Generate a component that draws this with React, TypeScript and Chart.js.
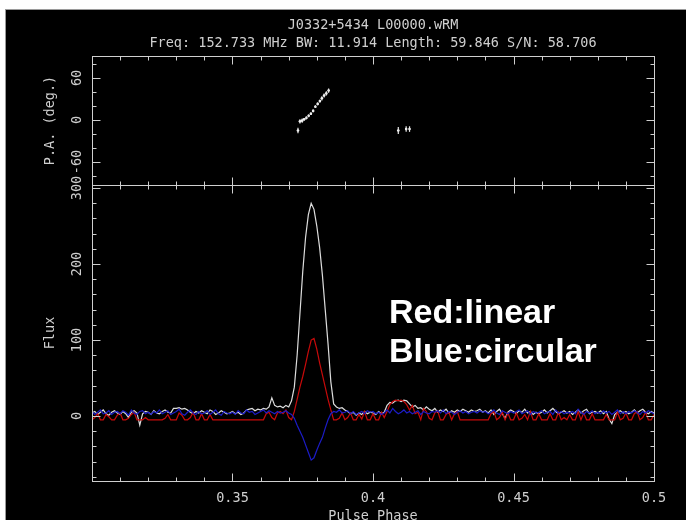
import { useEffect, useRef } from "react";
import { Chart, registerables } from "chart.js";

Chart.register(...registerables);

// Phase bins: 0.300 .. 0.500, step 0.001
const PHASE_START = 0.3;
const PHASE_STEP = 0.001;

// Total intensity (white)
const totalI: number[] = [
  4, 6, 2, 5, 8, 3, 1, 5, 7, 4,
  2, 6, 3, -2, 5, 7, 4, -12, 3, 6,
  5, 2, 7, 4, 3, 6, 8, 5, 4, 10,
  10, 11, 9, 10, 8, 5, 3, 6, 4, 7,
  5, 3, 8, 6, 2, 4, 7, 5, 3, 4,
  6, 3, 5, 2, 4, 8, 9, 10, 7, 9,
  8, 10, 9, 12, 24, 14, 12, 13, 11, 14,
  12, 20, 38, 80, 135, 190, 235, 265, 280, 272,
  250, 222, 185, 140, 95, 45, 16, 12, 10, 11,
  8, 6, 3, 5, 1, 4, 2, 6, 3, 5,
  4, 2, 6, 3, 5, 14, 18, 17, 20, 21,
  19, 21, 20, 16, 12, 14, 10, 11, 8, 12,
  9, 7, 10, 5, 8, 6, 9, 4, 7, 5,
  8, 6, 9, 7, 5, 8, 6, 7, 9, 5,
  7, 4, 8, 2, 6, 9, 3, -3, 5, 8,
  6, 3, 7, 5, 9, 4, 6, 2, 5, 3,
  5, 8, 4, 7, 10, 6, 3, 5, 7, 4,
  6, 2, 5, 8, 4, 7, 9, 3, 5, 6,
  4, 7, 3, 6, -4, -10, 2, 5, 7, 4,
  6, 3, 5, 8, 4, 7, 9, 5, 3, 6, 4,
];

// Linear polarisation (red)
const linearL: number[] = [
  -5, -2, 3, -5, -5, 2, -1, -5, -5, 1,
  4, -5, -5, -3, 2, 5, -5, -5, -5, -2,
  -5, -5, -5, -5, -5, -5, -3, 2, -5, -5,
  -5, 4, 1, -5, -5, -2, 5, -5, -5, 3,
  -5, -5, 2, -5, -5, -5, -5, -5, -5, -5,
  -5, -5, -5, -5, -5, -5, -5, -5, -5, -5,
  -5, -5, 3, 5, -2, -5, 4, 6, 3, 8,
  -2, -5, 6, 22, 38, 52, 68, 85, 100, 102,
  88, 70, 54, 38, 22, 8, -5, -5, -3, 4,
  -5, -2, 4, -5, -5, 2, -4, 6, -5, -5,
  3, -5, -5, 5, -2, 6, 15, 19, 21, 20,
  21, 19, 15, 8, 14, 3, 5, -5, 10, 6,
  -3, -5, 4, 7, -5, -5, 2, 5, -5, 3,
  6, -5, -5, -5, -5, -5, -5, -5, -5, -5,
  -5, -5, 3, 6, -5, -2, 5, -5, 4, -5,
  -5, 4, -5, -3, 2, -5, 6, -5, -5, 3,
  -5, -5, -5, 3, -5, -5, 5, -5, -2, -5,
  2, -5, -5, 6, -5, 4, -5, -5, 3, -5,
  -5, -5, -5, 2, -5, -5, -5, 5, -5, -3,
  4, -5, -5, 3, 6, -5, -2, 5, -5, -5, 2,
];

// Circular polarisation (blue)
const circularV: number[] = [
  6, 2, 5, 8, 3, 4, 7, 2, 5, 6,
  3, 7, 5, 1, 8, 4, 2, 6, 7, 3,
  5, 2, 6, 4, 8, 3, 5, 7, 2, 4,
  6, 9, 3, 1, 5, 8, 4, 2, 6, 3,
  4, 7, 2, 5, 8, 3, 1, 6, 4, 3,
  5, 2, 7, 4, 3, 8, 5, 6, 2, 4,
  6, 8, 4, 7, 5, 3, 6, 4, 5, 7,
  4, 2, -3, -12, -20, -28, -38, -48, -58, -55,
  -45, -36, -28, -16, -5, 3, 6, 5, 8, 4,
  5, 7, 3, 6, 2, 4, 6, 3, 7, 5,
  6, 3, 5, 2, 4, 8, 4, 10, 6, 3,
  5, 8, 4, 6, 3, 5, 7, 2, 6, 4,
  3, 6, 5, 7, 4, 8, 3, 6, 5, 2,
  5, 7, 4, 6, 3, 5, 6, 4, 7, 5,
  6, 3, 5, 8, 4, 2, 7, 5, 3, 6,
  4, 6, 8, 3, 5, 7, 2, 6, 4, 5,
  7, 3, 5, 6, 2, 8, 4, 6, 3, 5,
  4, 6, 3, 9, 5, 2, 6, 4, 7, 3,
  5, 3, 7, 4, 6, 2, 5, 8, 3, 6,
  3, 6, 4, 7, 5, 2, 6, 4, 7, 5, 3,
];

// Position angle points
const paPhase: number[] = [
  0.3733, 0.374, 0.3748, 0.3755, 0.3763, 0.3771, 0.3779, 0.3787, 0.3795,
  0.3803, 0.3811, 0.3818, 0.3826, 0.3834, 0.3842, 0.409, 0.4118, 0.413,
];
const paDeg: number[] = [
  -15, -2, -1, 1, 3, 6, 9, 13, 19, 23, 27, 31, 35, 38, 42, -15, -13, -13,
];
const paErr: number[] = [
  4, 3, 3, 2, 2, 2, 2, 2, 2, 2, 2, 3, 3, 3, 3, 5, 4, 4,
];

const xMajorTicks = [0.35, 0.4, 0.45, 0.5];
const xTickLabels = ["0.35", "0.4", "0.45", "0.5"];
const fluxTicks = [0, 100, 200, 300];
const fluxTickLabels = ["0", "100", "200", "300"];
const paTicks = [-60, 0, 60];
const paTickLabels = ["-60", "0", "60"];
const titleLines = [
  "J0332+5434 L00000.wRM",
  "Freq: 152.733 MHz BW: 11.914 Length: 59.846 S/N: 58.706",
];
const xAxisTitle = "Pulse Phase";
const fluxAxisTitle = "Flux";
const paAxisTitle = "P.A. (deg.)";
const noteLines = ["Red:linear", "Blue:circular"];

const FG = "#cfcfcf";
const MONO = '"DejaVu Sans Mono", monospace';
const LABEL_FONT = `13.5px ${MONO}`;

const pgplotPlugin = {
  id: "pgplot",
  beforeDraw(chart: any) {
    const ctx = chart.ctx;
    ctx.save();
    ctx.fillStyle = "#ffffff";
    ctx.fillRect(0, 0, chart.width, chart.height);
    ctx.fillStyle = "#9a9a9a";
    ctx.fillRect(5, 9, chart.width - 5, chart.height - 9);
    ctx.fillStyle = "#000000";
    ctx.fillRect(6, 10, chart.width - 6, chart.height - 10);
    ctx.restore();
  },
  afterDatasetsDraw(chart: any) {
    const ctx = chart.ctx;
    const xs = chart.scales.x;
    const ys = chart.scales.yPA;
    ctx.save();
    ctx.strokeStyle = "#e8e8e8";
    ctx.lineWidth = 1.2;
    for (let i = 0; i < paPhase.length; i++) {
      const px = xs.getPixelForValue(paPhase[i]);
      const y1 = ys.getPixelForValue(paDeg[i] - paErr[i]);
      const y2 = ys.getPixelForValue(paDeg[i] + paErr[i]);
      ctx.beginPath();
      ctx.moveTo(px, y1);
      ctx.lineTo(px, y2);
      ctx.stroke();
    }
    ctx.restore();
  },
  afterDraw(chart: any) {
    const ctx = chart.ctx;
    const xs = chart.scales.x;
    const panels = [
      { s: chart.scales.yPA, ticks: paTicks, labels: paTickLabels, minorStep: 20, from: -80, to: 80, major: 60, title: paAxisTitle },
      { s: chart.scales.yFlux, ticks: fluxTicks, labels: fluxTickLabels, minorStep: 20, from: -80, to: 300, major: 100, title: fluxAxisTitle },
    ];
    const L = Math.round(xs.left) + 0.5;
    const R = Math.round(xs.right) + 0.5;
    ctx.save();
    ctx.strokeStyle = FG;
    ctx.fillStyle = FG;
    ctx.lineWidth = 1;
    for (const p of panels) {
      const T = Math.round(p.s.top) + 0.5;
      const B = Math.round(p.s.bottom) + 0.5;
      ctx.strokeRect(L, T, R - L, B - T);
      ctx.beginPath();
      for (let k = 31; k < 50; k++) {
        const v = k / 100;
        const len = k % 5 === 0 ? 8 : 4;
        const px = Math.round(xs.getPixelForValue(v)) + 0.5;
        ctx.moveTo(px, B);
        ctx.lineTo(px, B - len);
        ctx.moveTo(px, T);
        ctx.lineTo(px, T + len);
      }
      for (let v = p.from; v <= p.to; v += p.minorStep) {
        const len = v % p.major === 0 ? 8 : 4;
        const py = Math.round(p.s.getPixelForValue(v)) + 0.5;
        if (py <= T + 1 || py >= B - 1) continue;
        ctx.moveTo(L, py);
        ctx.lineTo(L + len, py);
        ctx.moveTo(R, py);
        ctx.lineTo(R - len, py);
      }
      ctx.stroke();
      ctx.font = LABEL_FONT;
      ctx.textAlign = "center";
      ctx.textBaseline = "middle";
      p.ticks.forEach((v, i) => {
        const py = p.s.getPixelForValue(v);
        ctx.save();
        ctx.translate(77, py);
        ctx.rotate(-Math.PI / 2);
        ctx.fillText(p.labels[i], 0, 0);
        ctx.restore();
      });
      ctx.save();
      ctx.translate(50, (p.s.top + p.s.bottom) / 2);
      ctx.rotate(-Math.PI / 2);
      ctx.fillText(p.title, 0, 0);
      ctx.restore();
    }
    ctx.font = LABEL_FONT;
    ctx.textAlign = "center";
    ctx.textBaseline = "middle";
    xMajorTicks.forEach((v, i) => {
      ctx.fillText(xTickLabels[i], xs.getPixelForValue(v), 498);
    });
    ctx.fillText(xAxisTitle, (xs.left + xs.right) / 2, 516);
    const cx = (xs.left + xs.right) / 2;
    ctx.fillText(titleLines[0], cx, 25);
    ctx.fillText(titleLines[1], cx, 43);
    ctx.fillStyle = "#ffffff";
    ctx.font = 'bold 34px "Liberation Sans", Arial, sans-serif';
    ctx.textAlign = "left";
    ctx.fillText(noteLines[0], 389, 314);
    ctx.fillText(noteLines[1], 389, 353);
    ctx.restore();
  },
};

export default function App() {
  const ref = useRef<HTMLCanvasElement | null>(null);
  useEffect(() => {
    if (!ref.current) return;
    const toXY = (arr: number[]) =>
      arr.map((v, i) => ({ x: PHASE_START + i * PHASE_STEP, y: v }));
    const chart = new Chart(ref.current, {
      type: "line",
      data: {
        datasets: [
          { label: "V", data: toXY(circularV), borderColor: "#1c1cc8", borderWidth: 1.2, pointRadius: 0, yAxisID: "yFlux", order: 0 } as any,
          { label: "L", data: toXY(linearL), borderColor: "#c80a0a", borderWidth: 1.2, pointRadius: 0, yAxisID: "yFlux", order: 1 } as any,
          { label: "I", data: toXY(totalI), borderColor: "#dcdcdc", borderWidth: 1.2, pointRadius: 0, yAxisID: "yFlux", order: 2 } as any,
          {
            label: "PA",
            data: paPhase.map((p, i) => ({ x: p, y: paDeg[i] })),
            showLine: false,
            pointRadius: 1.3,
            pointBackgroundColor: "#ffffff",
            pointBorderWidth: 0,
            yAxisID: "yPA",
            order: 3,
          } as any,
        ],
      },
      options: {
        animation: false,
        responsive: false,
        events: [],
        layout: { padding: { left: 92, right: 32, top: 56, bottom: 39 } },
        plugins: { legend: { display: false }, tooltip: { enabled: false }, title: { display: false } },
        scales: {
          x: { type: "linear", min: 0.3, max: 0.5, display: false },
          yFlux: { type: "linear", min: -85.5, max: 304, display: false, stack: "panels", stackWeight: 296, position: "left" },
          yPA: { type: "linear", min: -92.9, max: 91.4, display: false, stack: "panels", stackWeight: 129, position: "left" },
        } as any,
      },
      plugins: [pgplotPlugin],
    });
    return () => chart.destroy();
  }, []);
  return (
    <canvas
      ref={ref}
      width={686}
      height={520}
      style={{ position: "absolute", left: 0, top: 0, width: 686, height: 520, display: "block" }}
    />
  );
}
